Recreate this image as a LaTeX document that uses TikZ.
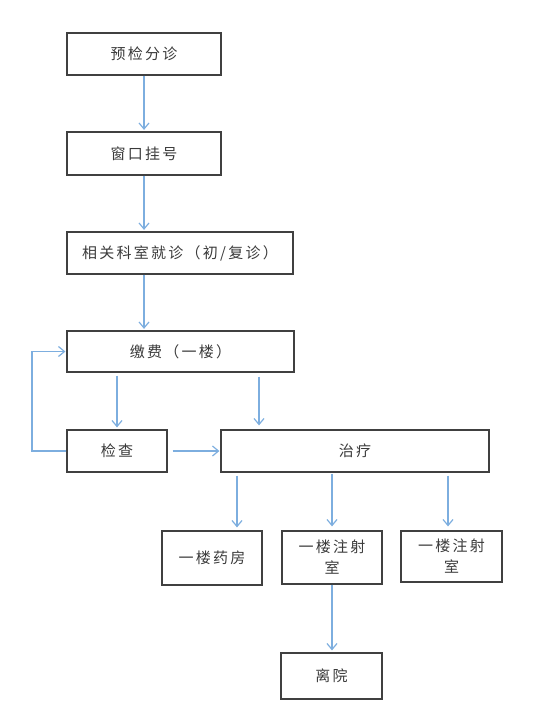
\documentclass[tikz,border=0pt]{standalone}
\usepackage{fontspec}
\newfontfamily\cjk[LetterSpace=15]{Noto Sans CJK SC}
\usetikzlibrary{arrows.meta,calc}
\definecolor{arrowblue}{HTML}{7DAEDF}
\definecolor{boxline}{HTML}{404040}
\definecolor{txt}{HTML}{3A3A3A}
\tikzset{
  box/.style={draw=boxline, line width=1.2pt, inner sep=0pt, align=center,
    font=\cjk\fontsize{15}{21}\selectfont, text=txt},
  arr/.style={draw=arrowblue, line width=1.2pt, -{Straight Barb[length=6pt,width=10pt]}},
  lin/.style={draw=arrowblue, line width=1.2pt}
}
\begin{document}
\begin{tikzpicture}[x=1pt,y=-1pt]
\useasboundingbox (0,0) rectangle (554,711);
\node[box, minimum width=154, minimum height=42] (b1) at (144,54) {预检分诊};
\node[box, minimum width=154, minimum height=43] (b2) at (144,153.5) {窗口挂号};
\node[box, minimum width=226, minimum height=42] (b3) at (180,253) {相关科室就诊（初/复诊）};
\node[box, minimum width=227, minimum height=41] (b4) at (180.5,351.5) {缴费（一楼）};
\node[box, minimum width=100, minimum height=42] (b5) at (117,451) {检查};
\node[box, minimum width=268, minimum height=42] (b6) at (355,451) {治疗};
\node[box, minimum width=100, minimum height=54] (b7) at (212,558) {一楼药房};
\node[box, minimum width=100, minimum height=53] (b8) at (332,557.5) {一楼注射\\室};
\node[box, minimum width=101, minimum height=51] (b9) at (451.5,556.5) {一楼注射\\室};
\node[box, minimum width=101, minimum height=46] (b10) at (331.5,676) {离院};
\coordinate (lx) at (32,0);
\draw[arr, shorten >=1.5pt] (b1.south -| b1) -- (b2.north -| b1);
\draw[arr, shorten >=1.5pt] (b2.south -| b2) -- (b3.north -| b2);
\draw[arr, shorten >=1.5pt] (b3.south -| b2) -- (b4.north -| b2);
\draw[arr, shorten <=3pt, shorten >=2pt] (b4.south -| b5) -- (b5.north);
\draw[arr, shorten <=4pt, shorten >=4pt] ([xshift=78.5]b4.south) -- ([xshift=78.5]b4.south |- b6.north);
\draw[arr, shorten <=5pt, shorten >=1pt] (b5.east) -- (b5.east -| b6.west);
\draw[arr, shorten >=1pt] (b5.west) -- (b5.west -| lx) -- (b4.west -| lx) -- (b4.west);
\draw[arr, shorten <=3pt, shorten >=3pt] ([xshift=25]b7.north |- b6.south) -- ([xshift=25]b7.north);
\draw[arr, shorten <=1pt, shorten >=4pt] (b6.south -| b8) -- (b8.north);
\draw[arr, shorten <=3pt, shorten >=4pt] ([xshift=-3.5]b9.north |- b6.south) -- ([xshift=-3.5]b9.north);
\draw[arr, shorten >=2pt] (b8.south) -- (b10.north -| b8);
\end{tikzpicture}
\end{document}
